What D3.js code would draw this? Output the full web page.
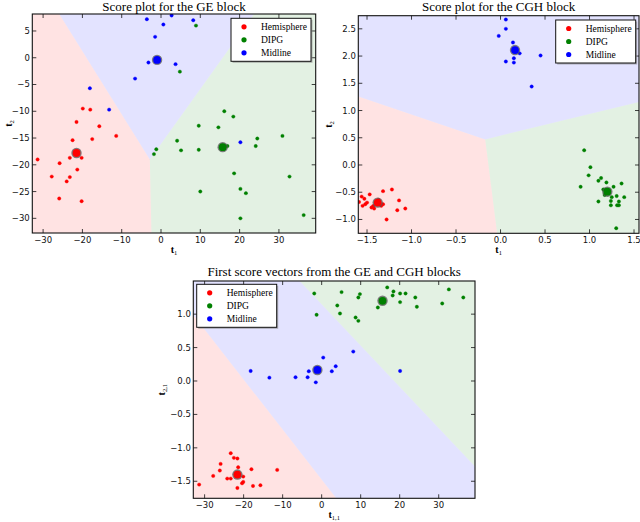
<!DOCTYPE html>
<html>
<head>
<meta charset="utf-8">
<script src="https://cdn.jsdelivr.net/npm/d3@7"></script>
<style>
  body { margin: 0; background: #fff; }
  svg { display: block; }
</style>
</head>
<body>
<div class="visualisation"></div>
<script>
const classes = ["Hemisphere", "DIPG", "Midline"];
const classColors = ["#ff0000", "#008000", "#0000ff"];

// GE block scores: [t1, t2]
const geHemisphere = [[-31.4,-19.0],[-27.8,-22.2],[-25.8,-19.7],[-25.9,-26.3],[-24.0,-23.1],[-23.2,-22.3],
  [-23.2,-18.7],[-22.5,-15.4],[-21.5,-12.0],[-21.3,-20.9],[-20.2,-18.7],[-20.2,-26.8],[-19.9,-9.5],
  [-18.0,-9.7],[-17.5,-15.2],[-15.7,-12.8],[-11.4,-14.6],[-21.5,-17.6]];
const geDIPG = [[8.9,6.0],[4.8,-2.6],[-1.2,-17.1],[-1.8,-18.0],[4.1,-15.5],[5.1,-17.3],[9.6,-12.7],
  [9.6,-17.2],[10.0,-25.0],[14.6,-13.0],[16.9,-16.5],[16.1,-10.0],[18.4,-11.0],[18.6,-21.6],[20.2,-24.5],
  [20.2,-30.0],[21.6,-25.3],[24.1,-16.5],[24.5,-15.1],[30.9,-14.6],[32.7,-22.2],[36.3,-29.4]];
const geMidline = [[-3.6,7.2],[0.6,6.2],[2.7,7.9],[8.2,7.0],[-1.5,3.9],[-3.2,-0.9],[3.7,-1.2],
  [-6.6,-3.9],[-18.1,-5.7],[-13.2,-9.7],[20.2,-15.8]];
const geCenters = [[-21.5,-17.8],[15.7,-16.7],[-1.0,-0.4]];

// CGH block scores: [t1, t2]
const cghHemisphere = [[-1.59,-0.68],[-1.56,-0.58],[-1.53,-0.62],[-1.55,-0.75],[-1.52,-0.72],[-1.50,-0.69],
  [-1.47,-0.54],[-1.45,-0.78],[-1.43,-0.75],[-1.42,-0.80],[-1.37,-0.64],[-1.34,-0.75],[-1.32,-0.72],
  [-1.32,-0.48],[-1.22,-0.45],[-1.14,-0.65],[-1.16,-0.83],[-1.07,-0.80],[-1.28,-1.00]];
const cghDIPG = [[0.94,0.27],[1.01,-0.04],[0.99,-0.19],[0.90,-0.40],[1.10,-0.29],[1.13,-0.24],[1.19,-0.32],
  [1.27,-0.40],[1.36,-0.34],[1.155,-0.45],[1.25,-0.59],[1.305,-0.57],[1.39,-0.59],[1.10,-0.67],
  [1.24,-0.66],[1.33,-0.67],[1.24,-0.74],[1.31,-0.74],[1.33,-0.74],[1.30,-1.16],[1.17,-0.55]];
const cghMidline = [[0.06,2.67],[0.06,2.50],[-0.02,2.37],[0.14,2.25],[0.215,2.05],[0.06,1.90],
  [0.15,1.96],[0.15,1.88],[0.45,2.01],[0.35,1.44]];
const cghCenters = [[-1.38,-0.69],[1.20,-0.49],[0.163,2.11]];

// First score vectors: [t_{1,1}, t_{2,1}]
const combHemisphere = [[-31.4,-1.55],[-27.8,-1.42],[-25.9,-1.24],[-26.1,-1.34],[-24.2,-1.46],[-23.3,-1.46],
  [-23.3,-1.08],[-22.5,-1.15],[-21.6,-1.16],[-21.4,-1.29],[-21.6,-1.60],[-20.1,-1.43],[-20.1,-1.51],
  [-20.4,-1.53],[-18.0,-1.32],[-17.6,-1.57],[-15.7,-1.56],[-11.4,-1.33]];
const combDIPG = [[-1.9,1.31],[5.1,1.33],[4.0,1.13],[4.7,1.01],[-1.3,0.99],[9.4,1.25],[9.8,1.30],
  [8.7,0.95],[9.4,0.90],[14.4,1.10],[16.8,1.40],[18.2,1.28],[18.4,1.34],[20.1,1.31],[20.1,1.18],
  [21.5,1.31],[24.0,1.25],[24.4,1.11],[30.9,1.16],[32.6,1.37],[36.3,1.25]];
const combMidline = [[-18.2,0.15],[-13.4,0.05],[-6.7,0.055],[-3.6,0.055],[-3.3,0.145],[-1.5,-0.02],
  [0.4,0.35],[2.6,0.145],[3.6,0.22],[8.1,0.44],[20.1,0.15]];
const combCenters = [[-21.6,-1.40],[15.6,1.20],[-1.1,0.165]];
// class borders of the combined plot, read as two points each: [classA, classB, p1, p2]
const combBorders = [[0, 2, [-29.9,0.763], [3.4,-1.73]], [2, 1, [-5.56,1.49], [39.3,-1.28]]];

const geXTicks = [-30,-20,-10,0,10,20,30];
const geYTicks = [5,0,-5,-10,-15,-20,-25,-30];
const cghXTicks = [-1.5,-1.0,-0.5,0.0,0.5,1.0,1.5];
const cghYTicks = [-1.0,-0.5,0.0,0.5,1.0,1.5,2.0,2.5];
const combXTicks = [-30,-20,-10,0,10,20,30];
const combYTicks = [-1.5,-1.0,-0.5,0.0,0.5,1.0];

const W = 640, H = 522;
const svg = d3.select(".visualisation").append("svg")
  .attr("width", W).attr("height", H)
  .attr("viewBox", `0 0 ${W} ${H}`);

const serif = "'Liberation Serif', 'Times New Roman', serif";
const sans = "'DejaVu Sans', sans-serif";

const panels = [
  { title: "Score plot for the GE block", titleY: 10.5,
    box: {l: 32.3, r: 315.7, t: 14, b: 233},
    xDomain: [-32.75, 39.36], yDomain: [-32.74, 8.17],
    xTicks: geXTicks, yTicks: geYTicks, fx: d3.format("d"), fy: d3.format("d"),
    xLab: ["t", "1"], yLab: ["t", "2"], yLabX: 11.5,
    groups: [geHemisphere, geDIPG, geMidline], centers: geCenters, borders: null,
    legend: {x: 231, y: 18.3} },
  { title: "Score plot for the CGH block", titleY: 10.5,
    box: {l: 358.3, r: 639, t: 15.7, b: 233.3},
    xDomain: [-1.598, 1.556], yDomain: [-1.254, 2.741],
    xTicks: cghXTicks, yTicks: cghYTicks, fx: d3.format(".1f"), fy: d3.format(".1f"),
    xLab: ["t", "1"], yLab: ["t", "2"], yLabX: 331.5,
    groups: [cghHemisphere, cghDIPG, cghMidline], centers: cghCenters, borders: null,
    legend: {x: 555.7, y: 20} },
  { title: "First score vectors from the GE and CGH blocks", titleY: 275.5,
    box: {l: 193.3, r: 475, t: 281, b: 498.3},
    xDomain: [-32.9, 39.3], yDomain: [-1.755, 1.496],
    xTicks: combXTicks, yTicks: combYTicks, fx: d3.format("d"), fy: d3.format(".1f"),
    xLab: ["t", "1,1"], yLab: ["t", "2,1"], yLabX: 164.5,
    groups: [combHemisphere, combDIPG, combMidline], centers: combCenters, borders: combBorders,
    legend: {x: 196.7, y: 284.3} }
];

// keep the part of a polygon where (p - m).n <= 0
function clipHalf(poly, m, n) {
  const out = [];
  const f = p => (p[0] - m[0]) * n[0] + (p[1] - m[1]) * n[1];
  for (let i = 0; i < poly.length; i++) {
    const a = poly[i], b = poly[(i + 1) % poly.length];
    const fa = f(a), fb = f(b);
    if (fa <= 0) out.push(a);
    if ((fa <= 0) !== (fb <= 0)) {
      const t = fa / (fa - fb);
      out.push([a[0] + t * (b[0] - a[0]), a[1] + t * (b[1] - a[1])]);
    }
  }
  return out;
}

// half planes for each class: nearest centre, or read borders
function halfPlanes(p) {
  const hp = classes.map(() => []);
  if (!p.borders) {
    for (let i = 0; i < 3; i++) for (let j = 0; j < 3; j++) {
      if (i === j) continue;
      const ci = p.centers[i], cj = p.centers[j];
      hp[i].push({m: [(ci[0] + cj[0]) / 2, (ci[1] + cj[1]) / 2], n: [cj[0] - ci[0], cj[1] - ci[1]]});
    }
  } else {
    p.borders.forEach(([a, b, p1, p2]) => {
      let n = [-(p2[1] - p1[1]), p2[0] - p1[0]];
      const ca = p.centers[a];
      if ((ca[0] - p1[0]) * n[0] + (ca[1] - p1[1]) * n[1] > 0) n = [-n[0], -n[1]];
      hp[a].push({m: p1, n: n});
      hp[b].push({m: p1, n: [-n[0], -n[1]]});
    });
  }
  return hp;
}

panels.forEach((p, pi) => {
  const x = d3.scaleLinear().domain(p.xDomain).range([p.box.l, p.box.r]);
  const y = d3.scaleLinear().domain(p.yDomain).range([p.box.b, p.box.t]);
  const g = svg.append("g");

  svg.append("clipPath").attr("id", "clip" + pi)
    .append("rect")
    .attr("x", p.box.l).attr("y", p.box.t)
    .attr("width", p.box.r - p.box.l).attr("height", p.box.b - p.box.t);

  const inner = g.append("g").attr("clip-path", `url(#clip${pi})`);

  // decision regions
  const [x0, x1] = p.xDomain, [y0, y1] = p.yDomain;
  const hp = halfPlanes(p);
  const line = d3.line().x(d => x(d[0])).y(d => y(d[1]));
  classes.forEach((c, ci) => {
    let poly = [[x0, y0], [x1, y0], [x1, y1], [x0, y1]];
    hp[ci].forEach(h => { poly = clipHalf(poly, h.m, h.n); });
    if (poly.length < 3) return;
    inner.append("path")
      .attr("d", line(poly) + "Z")
      .attr("fill", classColors[ci])
      .attr("fill-opacity", 0.11);
  });

  // samples
  p.groups.forEach((pts, ci) => {
    inner.selectAll(null)
      .data(pts)
      .enter()
      .append("circle")
      .attr("cx", d => x(d[0]))
      .attr("cy", d => y(d[1]))
      .attr("r", 1.7)
      .attr("fill", classColors[ci])
      .attr("stroke", classColors[ci])
      .attr("stroke-opacity", 0.45)
      .attr("stroke-width", 0.8);
  });

  // class centres
  p.centers.forEach((d, ci) => {
    inner.append("circle")
      .attr("cx", x(d[0])).attr("cy", y(d[1]))
      .attr("r", 5.2).attr("fill", "#555").attr("fill-opacity", 0.75);
    inner.append("circle")
      .attr("cx", x(d[0])).attr("cy", y(d[1]))
      .attr("r", 3.9).attr("fill", classColors[ci]);
  });

  // frame
  g.append("rect")
    .attr("x", p.box.l).attr("y", p.box.t)
    .attr("width", p.box.r - p.box.l).attr("height", p.box.b - p.box.t)
    .attr("fill", "none").attr("stroke", "#111").attr("stroke-width", 1.1);

  // ticks inward on all sides
  const tl = 4;
  p.xTicks.forEach(v => {
    const px = x(v);
    g.append("line").attr("x1", px).attr("x2", px).attr("y1", p.box.b).attr("y2", p.box.b - tl)
      .attr("stroke", "#111").attr("stroke-width", 0.8);
    g.append("line").attr("x1", px).attr("x2", px).attr("y1", p.box.t).attr("y2", p.box.t + tl)
      .attr("stroke", "#111").attr("stroke-width", 0.8);
    g.append("text").attr("x", px).attr("y", p.box.b + 10)
      .attr("text-anchor", "middle")
      .style("font-family", sans).style("font-size", "8.5px").attr("fill", "#111")
      .text(p.fx(v));
  });
  p.yTicks.forEach(v => {
    const py = y(v);
    g.append("line").attr("x1", p.box.l).attr("x2", p.box.l + tl).attr("y1", py).attr("y2", py)
      .attr("stroke", "#111").attr("stroke-width", 0.8);
    g.append("line").attr("x1", p.box.r).attr("x2", p.box.r - tl).attr("y1", py).attr("y2", py)
      .attr("stroke", "#111").attr("stroke-width", 0.8);
    g.append("text").attr("x", p.box.l - 2.5).attr("y", py).attr("dy", "0.35em")
      .attr("text-anchor", "end")
      .style("font-family", sans).style("font-size", "8.5px").attr("fill", "#111")
      .text(p.fy(v));
  });

  // title
  g.append("text")
    .attr("x", (p.box.l + p.box.r) / 2).attr("y", p.titleY)
    .attr("text-anchor", "middle")
    .style("font-family", serif).style("font-size", "13px").attr("fill", "#000")
    .text(p.title);

  // axis labels
  const xl = g.append("text")
    .attr("x", (p.box.l + p.box.r) / 2).attr("y", p.box.b + 19.5)
    .attr("text-anchor", "middle")
    .style("font-family", serif).style("font-size", "10px").style("font-weight", "bold");
  xl.append("tspan").text(p.xLab[0]);
  xl.append("tspan").attr("dy", 2).style("font-size", "6.5px").style("font-weight", "normal").text(p.xLab[1]);

  const cy = (p.box.t + p.box.b) / 2;
  const yl = g.append("text")
    .attr("transform", `translate(${p.yLabX},${cy}) rotate(-90)`)
    .attr("text-anchor", "middle")
    .style("font-family", serif).style("font-size", "10px").style("font-weight", "bold");
  yl.append("tspan").text(p.yLab[0]);
  yl.append("tspan").attr("dy", 2).style("font-size", "6.5px").style("font-weight", "normal").text(p.yLab[1]);

  // legend
  const lg = g.append("g").attr("transform", `translate(${p.legend.x},${p.legend.y})`);
  lg.append("rect").attr("x", 1.5).attr("y", 1.5).attr("width", 80).attr("height", 43)
    .attr("fill", "#888").attr("fill-opacity", 0.6);
  lg.append("rect").attr("width", 80).attr("height", 43)
    .attr("fill", "#fff").attr("stroke", "#111").attr("stroke-width", 1);
  classes.forEach((c, ci) => {
    const ry = 8.5 + ci * 13;
    lg.append("circle").attr("cx", 13).attr("cy", ry).attr("r", 2.6)
      .attr("fill", classColors[ci]);
    lg.append("text").attr("x", 30).attr("y", ry).attr("dy", "0.33em")
      .style("font-family", serif).style("font-size", "9.5px").attr("fill", "#000")
      .text(c);
  });
});
</script>
</body>
</html>
